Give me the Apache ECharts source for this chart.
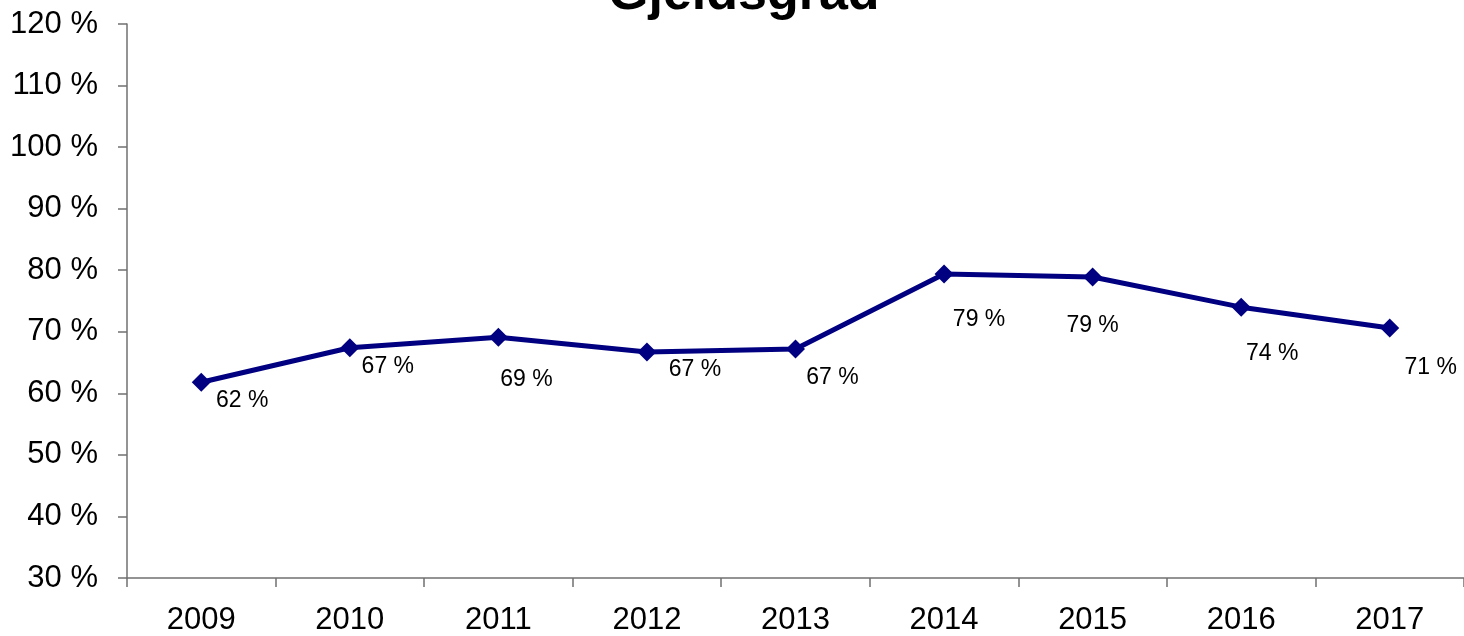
<!DOCTYPE html>
<html><head><meta charset="utf-8">
<script src="https://cdn.jsdelivr.net/npm/echarts@6/dist/echarts.min.js"></script>
<style>html,body{margin:0;padding:0;background:#fff}#c{width:1464px;height:636px}</style>
</head><body><div id="c"></div>
<script>
const titleText = 'Gjeldsgrad';
const years = ['2009','2010','2011','2012','2013','2014','2015','2016','2017'];
const gjeldsgrad = [61.8, 67.4, 69.1, 66.7, 67.2, 79.4, 78.9, 74.0, 70.6];
const yTicks = [30, 40, 50, 60, 70, 80, 90, 100, 110, 120];
const labelOffsets = [[41,18],[38,19],[28,42],[48,18],[37,29],[35,46],[0,49],[31,47],[41,40]];

const chart = echarts.init(document.getElementById('c'));
chart.setOption({
  animation: false,
  backgroundColor: '#fff',
  title: {
    text: titleText, left: 603, top: -36,
    textStyle: {fontFamily: 'Liberation Sans, Arial', fontWeight: 'bold', fontSize: 52, color: '#000'}
  },
  grid: {left: 127, top: 24, width: 1340, height: 554, containLabel: false},
  xAxis: {
    type: 'category', data: years, boundaryGap: true,
    axisLine: {lineStyle: {color: '#707070', width: 1.5}},
    axisTick: {show: true, length: 9, alignWithLabel: false, lineStyle: {color: '#707070', width: 1.5}},
    axisLabel: {fontFamily: 'Liberation Sans, Arial', fontSize: 31, color: '#000', margin: 27},
    splitLine: {show: false}
  },
  yAxis: {
    type: 'value', min: yTicks[0], max: yTicks[yTicks.length-1], interval: 10,
    axisLine: {show: true, lineStyle: {color: '#707070', width: 1.5}},
    axisTick: {show: true, length: 9, lineStyle: {color: '#707070', width: 1.5}},
    axisLabel: {fontFamily: 'Liberation Sans, Arial', fontSize: 31, color: '#000', margin: 29,
      formatter: v => v + ' %'},
    splitLine: {show: false}
  },
  series: [{
    type: 'line',
    data: gjeldsgrad.map((v, i) => ({
      value: v,
      label: {offset: labelOffsets[i]}
    })),
    symbol: 'diamond', symbolSize: 19,
    lineStyle: {color: '#000080', width: 5},
    itemStyle: {color: '#000080'},
    label: {
      show: true, position: 'inside',
      fontFamily: 'Liberation Sans, Arial', fontSize: 23, color: '#000',
      formatter: p => Math.round(p.value) + ' %'
    }
  }]
});
</script>
</body></html>
